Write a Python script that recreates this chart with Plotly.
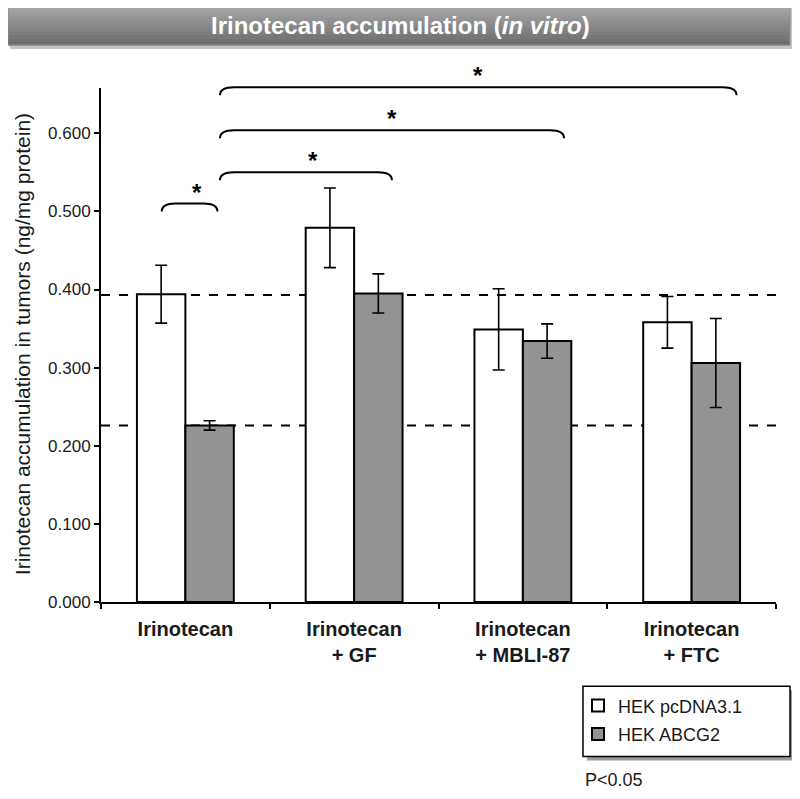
import plotly.graph_objects as go

# ---------------- data ----------------
categories = ["Irinotecan", "Irinotecan<br>+ GF", "Irinotecan<br>+ MBLI-87", "Irinotecan<br>+ FTC"]
series_names = ["HEK pcDNA3.1", "HEK ABCG2"]
pcdna_values = [0.394, 0.479, 0.349, 0.358]
pcdna_errors = [0.037, 0.051, 0.052, 0.033]
abcg2_values = [0.226, 0.395, 0.334, 0.306]
abcg2_errors = [0.006, 0.025, 0.022, 0.057]
reference_levels = [0.393, 0.226]
y_tick_values = [0.0, 0.1, 0.2, 0.3, 0.4, 0.5, 0.6]
# significance brackets: (x start, x end in category units, height in y units, label)
brackets = [
    (-0.14, 0.19, 0.510, "*"),
    (0.205, 1.224, 0.550, "*"),
    (0.205, 2.244, 0.604, "*"),
    (0.205, 3.266, 0.659, "*"),
]
title_text = "Irinotecan accumulation (<i>in vitro</i>)"
y_title = "Irinotecan accumulation in tumors (ng/mg protein)"
p_note = "P<0.05"

# ---------------- layout constants ----------------
OFF = 8  # page body margin
W, H = 784, 783
L = 101 - OFF
T = 88 - OFF
B = H - (601.7 - OFF)
R = W - (776 - OFF)
YMAX = 0.658
PW, PH = W - L - R, H - T - B
BOLD = "Liberation Sans, Arial, sans-serif"
ARIAL = "Liberation Sans, Arial, sans-serif"
TXT = "#1a1a1a"


def px_x(pix):
    return (pix - OFF - L) / PW


def px_y(pix):
    return (H - B - (pix - OFF)) / PH


def cat_x(c):
    return (c + 0.5) / len(categories)


def val_y(v):
    return v / YMAX


fig = go.Figure()
fig.add_trace(go.Bar(
    x=categories, y=pcdna_values, name=series_names[0],
    marker=dict(color="white", line=dict(color="black", width=2)),
    error_y=dict(type="data", array=pcdna_errors, color="black", thickness=1.6, width=6),
    legendgroup="a",
))
fig.add_trace(go.Bar(
    x=categories, y=abcg2_values, name=series_names[1],
    marker=dict(color="#939393", line=dict(color="black", width=2)),
    error_y=dict(type="data", array=abcg2_errors, color="black", thickness=1.6, width=6),
    legendgroup="b",
))

shapes = []
# dashed reference lines (behind bars)
for lv in reference_levels:
    shapes.append(dict(type="line", xref="paper", yref="y", x0=0, x1=1, y0=lv, y1=lv,
                       line=dict(color="black", width=2, dash="dash"), layer="below"))

# title banner: shadow + gradient strips
bx0, bx1, by0, by1 = 8, 790, 4, 45
shapes.append(dict(type="rect", xref="paper", yref="paper",
                   x0=px_x(bx0 + 2), x1=px_x(bx1 + 3), y0=px_y(by1 + 4), y1=px_y(by0 + 3),
                   fillcolor="#c4c4c4", line=dict(width=0), layer="below"))
nstrip = 12
for i in range(nstrip):
    t = i / (nstrip - 1)
    g = int(round(170 - (170 - 108) * t))
    ya = by0 + (by1 - by0) * i / nstrip
    yb = by0 + (by1 - by0) * (i + 1) / nstrip
    shapes.append(dict(type="rect", xref="paper", yref="paper",
                       x0=px_x(bx0), x1=px_x(bx1), y0=px_y(yb + 0.5), y1=px_y(ya),
                       fillcolor=f"rgb({g},{g},{g})", line=dict(width=0), layer="below"))
shapes.append(dict(type="rect", xref="paper", yref="paper",
                   x0=px_x(bx0), x1=px_x(bx1), y0=px_y(by1), y1=px_y(by0),
                   fillcolor="rgba(0,0,0,0)", line=dict(color="#8c8c8c", width=1), layer="below"))

# legend box with shadow
lx0, lx1, ly0, ly1 = 583, 790, 686, 756
shapes.append(dict(type="rect", xref="paper", yref="paper",
                   x0=px_x(lx0 + 4), x1=px_x(lx1 + 4), y0=px_y(ly1 + 4), y1=px_y(ly0 + 4),
                   fillcolor="#9a9a9a", line=dict(width=0)))
shapes.append(dict(type="rect", xref="paper", yref="paper",
                   x0=px_x(lx0), x1=px_x(lx1), y0=px_y(ly1), y1=px_y(ly0),
                   fillcolor="white", line=dict(color="black", width=1.5)))

annotations = []
# significance brackets
drop = 8 / PH
curve = 14 / PW
for xs, xe, hv, lab in brackets:
    x0, x1, yl = cat_x(xs), cat_x(xe), val_y(hv)
    c = min(curve, (x1 - x0) / 4)
    path = (f"M {x0},{yl - drop} Q {x0},{yl} {x0 + c},{yl} "
            f"L {x1 - c},{yl} Q {x1},{yl} {x1},{yl - drop}")
    shapes.append(dict(type="path", xref="paper", yref="paper", path=path,
                       line=dict(color="black", width=2)))
    annotations.append(dict(x=(x0 + x1) / 2, y=yl, xref="paper", yref="paper",
                            text=f"<b>{lab}</b>", showarrow=False, yanchor="bottom",
                            yshift=-4, font=dict(family=ARIAL, size=24, color="black")))

annotations.append(dict(x=px_x(400), y=px_y(26), xref="paper", yref="paper",
                        text=f"<b>{title_text}</b>", showarrow=False,
                        xanchor="center", yanchor="middle",
                        font=dict(family=BOLD, size=24, color="white")))
annotations.append(dict(x=px_x(583), y=px_y(780), xref="paper", yref="paper",
                        text=p_note, showarrow=False, xanchor="left", yanchor="middle",
                        font=dict(family=ARIAL, size=18, color=TXT)))
# y-axis title
annotations.append(dict(x=px_x(22), y=px_y(344), xref="paper", yref="paper",
                        text=y_title, textangle=-90, showarrow=False,
                        xanchor="center", yanchor="middle",
                        font=dict(family=ARIAL, size=21, color=TXT)))

fig.update_layout(
    width=W, height=H,
    margin=dict(l=L, r=R, t=T, b=B, pad=0, autoexpand=False),
    paper_bgcolor="white", plot_bgcolor="white",
    barmode="group", bargap=0.426, bargroupgap=0,
    showlegend=True,
    legend=dict(x=px_x(578), y=px_y(687), xanchor="left", yanchor="top",
                bgcolor="rgba(0,0,0,0)", borderwidth=0,
                font=dict(family=ARIAL, size=18, color=TXT),
                tracegroupgap=2, itemwidth=30),
    shapes=shapes, annotations=annotations,
    xaxis=dict(showline=True, linecolor="black", linewidth=2, ticks="outside",
               tickson="boundaries", ticklen=5, tickcolor="black", tickwidth=1.5,
               ticklabelstandoff=8,
               tickfont=dict(family=BOLD, size=20, color=TXT, weight="bold"),
               showgrid=False, zeroline=False, automargin=False),
    yaxis=dict(range=[0, YMAX], showline=True, linecolor="black", linewidth=2,
               tickvals=y_tick_values, tickformat=".3f", ticks="outside", ticklen=5,
               tickcolor="black", tickwidth=1.5, showgrid=False, zeroline=False,
               automargin=False,
               tickfont=dict(family=ARIAL, size=17, color=TXT)),
)

fig.write_html("out.html")
